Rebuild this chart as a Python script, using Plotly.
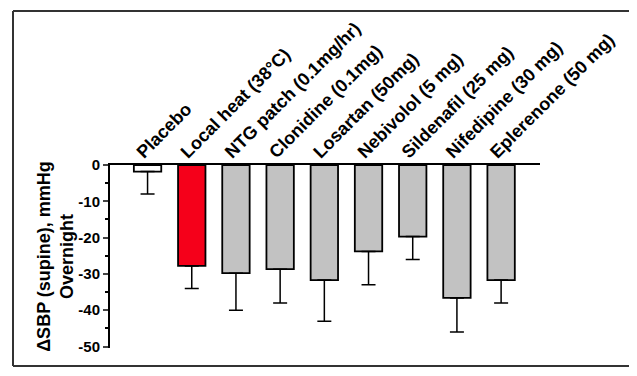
import plotly.graph_objects as go

categories = ["Placebo", "Local heat (38°C)", "NTG patch (0.1mg/hr)", "Clonidine (0.1mg)",
              "Losartan (50mg)", "Nebivolol (5 mg)", "Sildenafil (25 mg)",
              "Nifedipine (30 mg)", "Eplerenone (50 mg)"]
values = [-1.8, -27.8, -29.8, -28.7, -31.7, -23.8, -19.7, -36.6, -31.7]
errors = [6.2, 6.2, 10.2, 9.3, 11.3, 9.2, 6.3, 9.4, 6.3]
colors = ["#ffffff", "#f5001a", "#c2c2c2", "#c2c2c2", "#c2c2c2", "#c2c2c2", "#c2c2c2", "#c2c2c2", "#c2c2c2"]
y_ticks = [0, -10, -20, -30, -40, -50]

# page has an 8px body margin; size figure to fill the visible window
OFF = 8
W, H = 637 - OFF, 376 - OFF
L = 110 - OFF
T = 165 - OFF
R = W - (540 - OFF)
B = H - (348 - OFF)
pw, ph = W - L - R, H - T - B

fig = go.Figure()
fig.add_trace(go.Bar(
    x=list(range(len(categories))), y=values,
    marker=dict(color=colors, line=dict(color="black", width=1.8)),
    width=0.62,
    error_y=dict(type="data", symmetric=False, array=[0]*len(values), arrayminus=errors,
                 color="black", thickness=1.5, width=7),
))

fig.update_layout(
    width=W, height=H,
    margin=dict(l=L, r=R, t=T, b=B),
    paper_bgcolor="white", plot_bgcolor="white",
    showlegend=False,
    font=dict(family="Liberation Sans, Arial", color="black"),
    xaxis=dict(
        side="top", range=[-0.85, 8.88],
        tickmode="array", tickvals=list(range(len(categories))),
        ticktext=[f"<b>{c}</b>" for c in categories],
        tickangle=-45, tickfont=dict(size=18), ticks="",
        ticklabelshift=-10, ticklabelstandoff=-6,
        showline=True, linecolor="black", linewidth=2,
        showgrid=False, zeroline=False, automargin=False,
    ),
    yaxis=dict(
        range=[-50.4, 0], tickmode="array", tickvals=y_ticks,
        ticktext=[f"<b>{v}</b>" for v in y_ticks],
        tickfont=dict(size=15), ticks="outside", ticklen=5, tickwidth=1.5,
        minor=dict(tickmode="array", tickvals=[-5, -15, -25, -35, -45], ticks="outside", ticklen=3, tickwidth=1.5, tickcolor="black"),
        showline=True, linecolor="black", linewidth=2,
        showgrid=False, zeroline=False, automargin=False,
        title=dict(text="<b>ΔSBP (supine), mmHg<br>Overnight</b>", font=dict(size=18), standoff=0),
    ),
)

# outer frame of the picture (left, top, bottom edges; right edge lies off-page)
fx0, fx1 = (13 - 110) / pw, (700 - 110) / pw
fy0, fy1 = (348 - 366) / ph, (348 - 11) / ph
for x0, y0, x1, y1 in [(fx0, fy0, fx0, fy1), (fx0, fy1, fx1, fy1), (fx0, fy0, fx1, fy0)]:
    fig.add_shape(type="line", xref="paper", yref="paper", x0=x0, y0=y0, x1=x1, y1=y1,
                  line=dict(color="#333333", width=2), layer="below")

fig.write_html("out.html")
